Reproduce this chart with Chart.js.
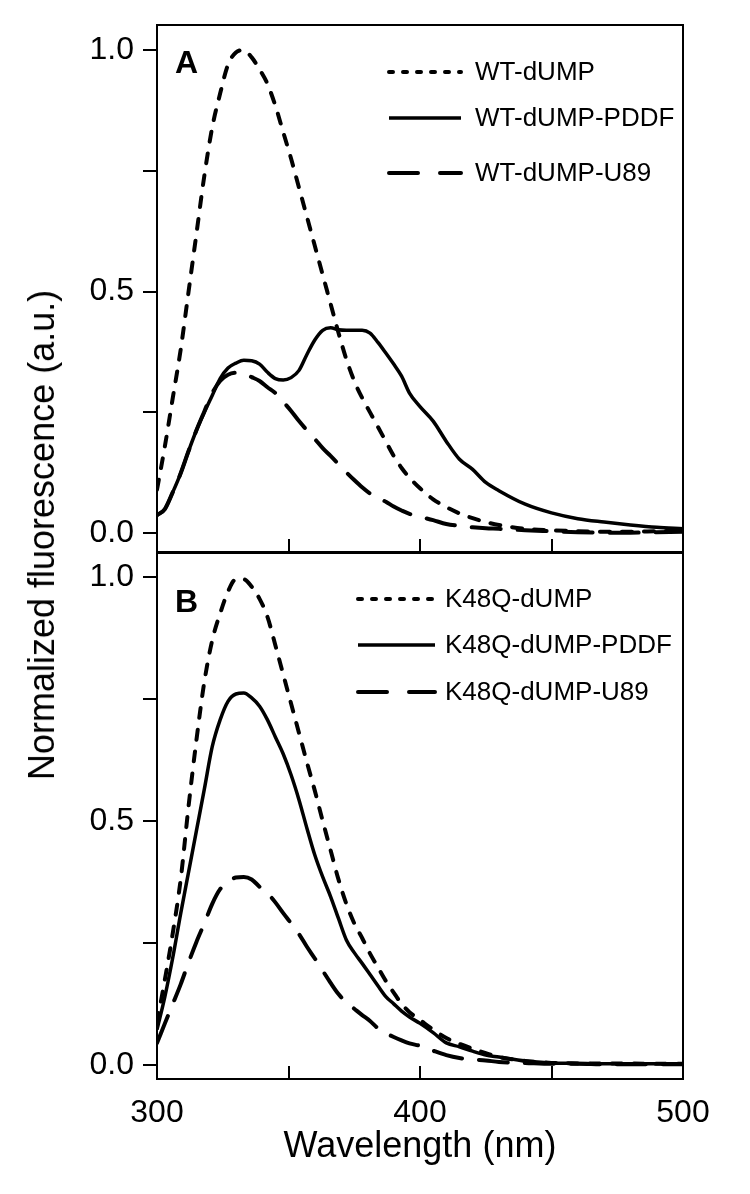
<!DOCTYPE html>
<html>
<head>
<meta charset="utf-8">
<script src="https://cdn.jsdelivr.net/npm/chart.js@4.4.1/dist/chart.umd.min.js"></script>
<style>
  html, body { margin: 0; padding: 0; background: #fff; }
  #wrap { position: relative; width: 750px; height: 1194px; overflow: hidden; background: #fff; }
  canvas { position: absolute; left: 0; }
  #chartA { top: 0; }
  #chartB { top: 540px; }
  #ytitle {
    position: absolute; left: 42px; top: 535px;
    transform: translate(-50%, -50%) rotate(-90deg);
    font: 36px "Liberation Sans", Arial, sans-serif;
    white-space: nowrap; color: #000;
  }
</style>
</head>
<body>
<div id="wrap">
  <canvas id="chartA" width="750" height="560"></canvas>
  <canvas id="chartB" width="750" height="654"></canvas>
  <div id="ytitle">Normalized fluorescence (a.u.)</div>
</div>
<script>
const FONT = '"Liberation Sans", Arial, sans-serif';

// wavelength (nm) shared by every spectrum
const wavelengths = [300, 303, 306, 309, 312, 315, 318, 321, 324, 327, 330, 333, 336, 339, 342, 345, 348, 351, 354, 357,
  360, 363, 366, 369, 372, 375, 378, 381, 384, 387, 390, 393, 396, 400, 405, 410, 415, 420, 425, 430,
  440, 450, 460, 470, 480, 490, 500];

// panel A
const wtDump = [0.09, 0.18, 0.28, 0.38, 0.50, 0.62, 0.74, 0.84, 0.91, 0.97, 0.995, 1.0, 0.985, 0.96, 0.93, 0.885, 0.83, 0.775, 0.715, 0.655,
  0.595, 0.535, 0.475, 0.415, 0.36, 0.315, 0.28, 0.25, 0.22, 0.19, 0.16, 0.135, 0.115, 0.093, 0.07, 0.054, 0.041, 0.031, 0.023, 0.017,
  0.009, 0.006, 0.004, 0.003, 0.003, 0.004, 0.005];
const wtDumpPddf = [0.037, 0.05, 0.085, 0.124, 0.17, 0.213, 0.25, 0.285, 0.32, 0.342, 0.352, 0.358, 0.357, 0.35, 0.333, 0.32, 0.317, 0.322, 0.337, 0.37,
  0.40, 0.42, 0.425, 0.421, 0.42, 0.42, 0.42, 0.414, 0.395, 0.373, 0.35, 0.325, 0.29, 0.262, 0.232, 0.19, 0.153, 0.132, 0.105, 0.088,
  0.06, 0.042, 0.03, 0.023, 0.017, 0.012, 0.009];
const wtDumpU89 = [0.037, 0.05, 0.085, 0.124, 0.17, 0.213, 0.252, 0.29, 0.315, 0.328, 0.332, 0.33, 0.323, 0.315, 0.302, 0.29, 0.272, 0.253, 0.232, 0.213,
  0.195, 0.176, 0.16, 0.143, 0.126, 0.11, 0.095, 0.082, 0.073, 0.065, 0.055, 0.047, 0.04, 0.034, 0.027, 0.019, 0.015, 0.012, 0.01, 0.009,
  0.006, 0.004, 0.002, 0.001, 0.001, 0.002, 0.003];

// panel B
const k48qDump = [0.086, 0.175, 0.27, 0.38, 0.53, 0.666, 0.785, 0.87, 0.925, 0.97, 0.995, 0.995, 0.98, 0.955, 0.918, 0.86, 0.8, 0.74, 0.68, 0.62,
  0.562, 0.5, 0.44, 0.38, 0.33, 0.29, 0.26, 0.228, 0.2, 0.172, 0.148, 0.125, 0.108, 0.092, 0.072, 0.055, 0.043, 0.033, 0.024, 0.016,
  0.008, 0.004, 0.003, 0.003, 0.003, 0.002, 0.002];
const k48qDumpPddf = [0.072, 0.14, 0.22, 0.31, 0.395, 0.48, 0.565, 0.652, 0.707, 0.745, 0.76, 0.762, 0.752, 0.735, 0.707, 0.672, 0.637, 0.594, 0.543, 0.485,
  0.43, 0.385, 0.345, 0.3, 0.256, 0.23, 0.208, 0.185, 0.162, 0.14, 0.125, 0.11, 0.098, 0.085, 0.066, 0.045, 0.037, 0.028, 0.02, 0.016,
  0.008, 0.004, 0.003, 0.002, 0.002, 0.002, 0.002];
const k48qDumpU89 = [0.045, 0.085, 0.125, 0.165, 0.21, 0.252, 0.29, 0.33, 0.36, 0.375, 0.384, 0.385, 0.38, 0.365, 0.352, 0.333, 0.311, 0.29, 0.268, 0.242,
  0.218, 0.193, 0.168, 0.145, 0.128, 0.115, 0.102, 0.09, 0.075, 0.065, 0.057, 0.05, 0.044, 0.039, 0.029, 0.02, 0.014, 0.011, 0.009, 0.006,
  0.004, 0.002, 0.002, 0.001, 0.001, 0.001, 0.001];

const xTicks = [300, 350, 400, 450, 500];
const xLabeled = [300, 400, 500];
const yTicks = [0, 0.25, 0.5, 0.75, 1.0];
const yLabeled = [0, 0.5, 1.0];

const styles = {
  dotted: { borderWidth: 4, borderDash: [10, 12], legendDash: [4, 10], borderCapStyle: 'round' },
  solid: { borderWidth: 3.5, borderDash: [], legendDash: [], borderCapStyle: 'butt' },
  longDash: { borderWidth: 4, borderDash: [29, 17], legendDash: [29, 22], borderCapStyle: 'round' }
};

const toPoints = vals => wavelengths.map((w, i) => ({ x: w, y: vals[i] }));

const makeSet = (label, vals, style) => Object.assign({
  label,
  data: toPoints(vals),
  borderColor: '#000',
  pointRadius: 0,
  fill: false,
  tension: 0.4,
  cubicInterpolationMode: 'monotone'
}, styles[style]);

// frame, inward x ticks, panel letter and legend
const panelDeco = {
  id: 'panelDeco',
  afterDraw(chart, args, opts) {
    const { ctx, chartArea: a } = chart;
    const x = chart.scales.x;
    ctx.save();
    ctx.strokeStyle = '#000';
    ctx.fillStyle = '#000';
    ctx.lineWidth = 2;
    ctx.strokeRect(a.left, a.top, a.right - a.left, a.bottom - a.top);
    ctx.beginPath();
    xTicks.forEach(v => {
      const px = Math.round(x.getPixelForValue(v));
      ctx.moveTo(px, a.bottom);
      ctx.lineTo(px, a.bottom - 13);
    });
    ctx.stroke();

    ctx.font = 'bold 32px ' + FONT;
    ctx.textBaseline = 'alphabetic';
    ctx.textAlign = 'left';
    ctx.fillText(opts.letter, a.left + 18, opts.letterY);

    ctx.font = '26px ' + FONT;
    ctx.textBaseline = 'middle';
    chart.data.datasets.forEach((ds, i) => {
      const y = opts.rows[i];
      ctx.setLineDash(ds.legendDash);
      ctx.lineWidth = ds.borderWidth;
      ctx.lineCap = ds.borderCapStyle;
      ctx.beginPath();
      ctx.moveTo(opts.lineX[0], y);
      ctx.lineTo(opts.lineX[1], y);
      ctx.stroke();
      ctx.setLineDash([]);
      ctx.fillText(ds.label, opts.textX, y + 1);
    });
    ctx.restore();
  }
};

function buildPanel(canvasId, datasets, cfg) {
  return new Chart(document.getElementById(canvasId), {
    type: 'line',
    data: { datasets },
    plugins: [panelDeco],
    options: {
      responsive: false,
      animation: false,
      devicePixelRatio: 1,
      layout: { padding: cfg.padding },
      plugins: {
        legend: { display: false },
        tooltip: { enabled: false },
        panelDeco: cfg.deco
      },
      scales: {
        x: {
          type: 'linear',
          min: 300,
          max: 500,
          afterBuildTicks: s => { s.ticks = xTicks.map(v => ({ value: v })); },
          afterFit: s => { s.height = cfg.xHeight; s.paddingLeft = 0; s.paddingRight = 0; },
          grid: { display: false, drawTicks: false },
          border: { display: false },
          ticks: {
            display: cfg.showX,
            autoSkip: false,
            maxRotation: 0,
            padding: 15,
            color: '#000',
            font: { family: FONT, size: 32 },
            callback: v => xLabeled.includes(v) ? String(v) : ''
          },
          title: {
            display: cfg.showX,
            text: 'Wavelength (nm)',
            color: '#000',
            font: { family: FONT, size: 36 },
            padding: { top: 0, bottom: 25 }
          }
        },
        y: {
          type: 'linear',
          min: cfg.yMin,
          max: cfg.yMax,
          afterBuildTicks: s => { s.ticks = yTicks.map(v => ({ value: v })); },
          afterFit: s => { s.width = 157; s.paddingTop = 0; s.paddingBottom = 0; },
          grid: { display: true, drawOnChartArea: false, drawTicks: true, tickLength: 14, color: '#000', lineWidth: 2 },
          border: { display: false },
          ticks: {
            padding: 9,
            color: '#000',
            font: { family: FONT, size: 32 },
            callback: v => yLabeled.includes(v) ? v.toFixed(1) : ''
          }
        }
      }
    }
  });
}

buildPanel('chartA', [
  makeSet('WT-dUMP', wtDump, 'dotted'),
  makeSet('WT-dUMP-PDDF', wtDumpPddf, 'solid'),
  makeSet('WT-dUMP-U89', wtDumpU89, 'longDash')
], {
  padding: { left: 0, top: 25, right: 67, bottom: 8 },
  xHeight: 0,
  showX: false,
  yMin: -0.039,
  yMax: 1.052,
  deco: { letter: 'A', letterY: 73, rows: [72, 118, 173], lineX: [389, 461], textX: 475 }
});

buildPanel('chartB', [
  makeSet('K48Q-dUMP', k48qDump, 'dotted'),
  makeSet('K48Q-dUMP-PDDF', k48qDumpPddf, 'solid'),
  makeSet('K48Q-dUMP-U89', k48qDumpU89, 'longDash')
], {
  padding: { left: 0, top: 13, right: 67, bottom: 0 },
  xHeight: 115,
  showX: true,
  yMin: -0.029,
  yMax: 1.049,
  deco: { letter: 'B', letterY: 72, rows: [59, 105, 152], lineX: [358, 435], textX: 445 }
});
</script>
</body>
</html>
